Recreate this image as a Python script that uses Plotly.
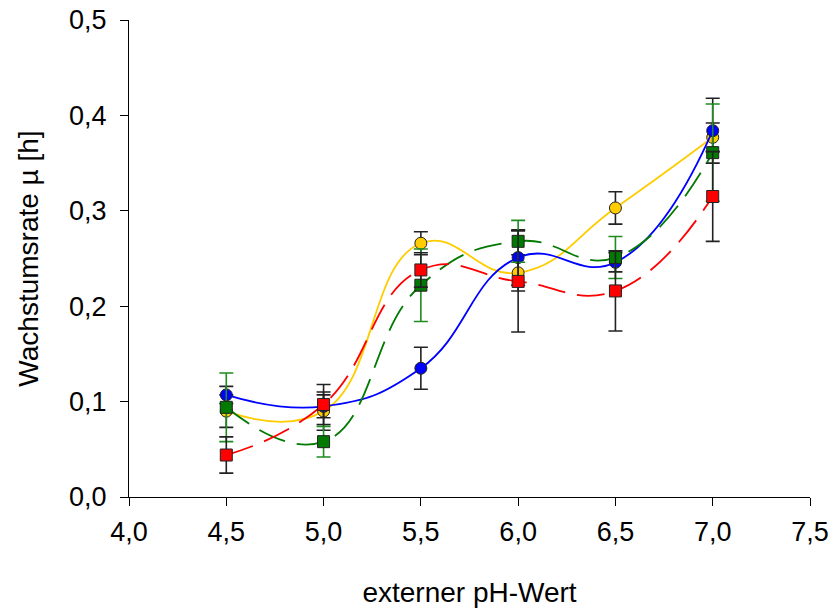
import plotly.graph_objects as go

ph = [4.5, 5.0, 5.5, 6.0, 6.5, 7.0]

yellow = [0.090, 0.090, 0.266, 0.235, 0.303, 0.377]
yellow_err = [0.017, 0.020, 0.012, 0.019, 0.017, 0.015]

blue = [0.107, 0.095, 0.135, 0.251, 0.246, 0.384]
blue_err = [0.009, 0.012, 0.022, 0.029, 0.010, 0.034]

green = [0.094, 0.058, 0.222, 0.268, 0.251, 0.361]
green_err = [0.036, 0.016, 0.038, 0.022, 0.022, 0.051]

red = [0.044, 0.097, 0.238, 0.226, 0.216, 0.315]
red_err = [0.019, 0.021, 0.018, 0.053, 0.042, 0.047]

x_ticks = [4.0, 4.5, 5.0, 5.5, 6.0, 6.5, 7.0, 7.5]
y_ticks = [0.0, 0.1, 0.2, 0.3, 0.4, 0.5]

series = [
    dict(y=yellow, e=yellow_err, color="#FFCC00", symbol="circle", dash="solid", ecol="#222222"),
    dict(y=blue, e=blue_err, color="#0000FF", symbol="circle", dash="solid", ecol="#222222"),
    dict(y=green, e=green_err, color="#007A00", symbol="square", dash="28px,12px", ecol="#1E8C1E"),
    dict(y=red, e=red_err, color="#FF0000", symbol="square", dash="28px,12px", ecol="#222222"),
]

fig = go.Figure()
for s in series:
    fig.add_trace(go.Scatter(
        x=ph, y=s["y"], mode="lines+markers",
        line=dict(color=s["color"], width=1.8, shape="spline", smoothing=1.3, dash=s["dash"]),
        marker=dict(symbol=s["symbol"], size=12, color=s["color"],
                    line=dict(color="#222222", width=1)),
        error_y=dict(type="data", array=s["e"], visible=True, color=s["ecol"],
                     thickness=1.6, width=7),
        showlegend=False,
    ))

tick_font = dict(family="Liberation Sans, Arial, sans-serif", size=27, color="black")
title_font = dict(family="Liberation Sans, Arial, sans-serif", size=28, color="black")

fig.update_layout(
    width=833, height=608,
    margin=dict(l=129, r=23, t=20, b=111),
    paper_bgcolor="white", plot_bgcolor="white",
    separators=", ",
    font=tick_font,
    xaxis=dict(
        range=[4.0, 7.5], tickvals=x_ticks, tickformat=".1f",
        showline=True, linecolor="black", linewidth=1.2,
        ticks="outside", ticklen=8, tickcolor="black", tickwidth=1.2,
        showgrid=False, zeroline=False, automargin=False,
        tickfont=tick_font, ticklabelstandoff=2,
        title=dict(text="externer pH-Wert", font=title_font, standoff=38),
    ),
    yaxis=dict(
        range=[0.0, 0.5], tickvals=y_ticks, tickformat=".1f",
        showline=True, linecolor="black", linewidth=1.2,
        ticks="outside", ticklen=8, tickcolor="black", tickwidth=1.2,
        showgrid=False, zeroline=False, automargin=False,
        tickfont=tick_font, ticklabelstandoff=8,
        title=dict(text="Wachstumsrate µ [h]", font=title_font, standoff=22),
    ),
)

fig.write_html("out.html")
